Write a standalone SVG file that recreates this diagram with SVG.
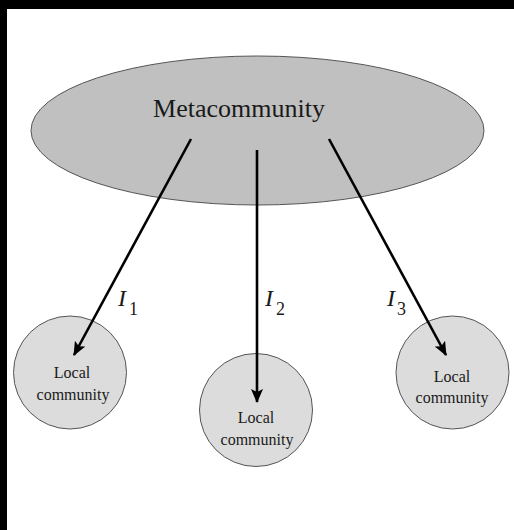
<svg xmlns="http://www.w3.org/2000/svg" width="514" height="530" viewBox="0 0 514 530">
<style>
.bg{fill:#ffffff}
.frame{fill:#000000}
.meta{fill:#c0c0c0;stroke:#555555;stroke-width:1}
.local{fill:#dcdcdc;stroke:#555555;stroke-width:1}
.t{font-family:"Liberation Serif","Times New Roman",serif;fill:#1a1a1a;text-anchor:middle}
.lab{font-family:"Liberation Serif","Times New Roman",serif;fill:#1a1a1a}
.arr{stroke:#000000;stroke-width:2.6;fill:none;marker-end:url(#ah)}
</style>
<defs>
<marker id="ah" markerUnits="userSpaceOnUse" viewBox="0 0 14 12" refX="13" refY="6" markerWidth="14" markerHeight="12" orient="auto">
<path d="M0,0 L14,6 L0,12 L3,6 Z" fill="#000000"/>
</marker>
</defs>
<rect class="bg" x="0" y="0" width="514" height="530"/>
<rect class="frame" x="0" y="0" width="514" height="9"/>
<rect class="frame" x="0" y="0" width="7" height="530"/>
<g id="metacommunity">
<ellipse class="meta" cx="257.5" cy="130.5" rx="226.5" ry="74.5"/>
<text class="t" x="239" y="117" font-size="26">Metacommunity</text>
</g>
<g id="local1">
<circle class="local" cx="70" cy="372.5" r="56.5"/>
<text class="t" x="72" y="378" font-size="16">Local</text>
<text class="t" x="73" y="400" font-size="16">community</text>
</g>
<g id="local2">
<circle class="local" cx="256" cy="410" r="56.5"/>
<text class="t" x="256" y="423" font-size="16">Local</text>
<text class="t" x="257" y="445" font-size="16">community</text>
</g>
<g id="local3">
<circle class="local" cx="452.5" cy="372.5" r="56.5"/>
<text class="t" x="452" y="382" font-size="16">Local</text>
<text class="t" x="452" y="403" font-size="16">community</text>
</g>
<g id="connectors">
<line class="arr" x1="191" y1="139" x2="74" y2="355"/>
<line class="arr" x1="257" y1="150" x2="257" y2="402"/>
<line class="arr" x1="329" y1="139" x2="446" y2="355"/>
</g>
<g id="labels">
<text class="lab" x="118" y="306" font-size="24" font-style="italic">I</text>
<text class="lab" x="129" y="315" font-size="18">1</text>
<text class="lab" x="265" y="306" font-size="24" font-style="italic">I</text>
<text class="lab" x="276" y="315" font-size="18">2</text>
<text class="lab" x="387" y="306" font-size="24" font-style="italic">I</text>
<text class="lab" x="397" y="315" font-size="18">3</text>
</g>
</svg>
